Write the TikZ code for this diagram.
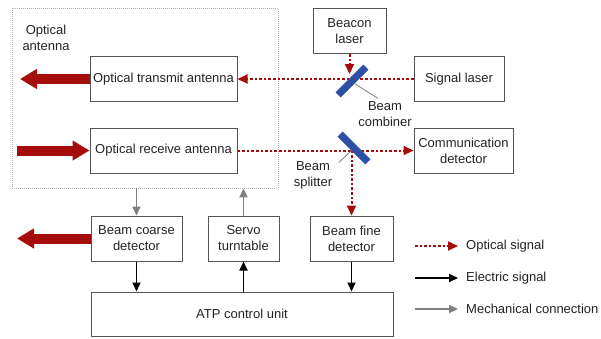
\documentclass[tikz,border=0pt]{standalone}
\usepackage{fontspec}
\setmainfont{Liberation Sans}
\usetikzlibrary{arrows.meta, positioning}

\definecolor{beamred}{RGB}{165,12,12}
\definecolor{mirrorblue}{RGB}{45,80,165}
\definecolor{boxgray}{RGB}{85,85,85}
\definecolor{textgray}{RGB}{35,35,35}

\begin{document}
\begin{tikzpicture}[x=1pt, y=-1pt, font=\fontsize{13}{16}\selectfont, text=textgray,
    block/.style={draw=boxgray, line width=1pt, align=center, inner sep=1pt, minimum height=45pt},
    optical/.style={draw=beamred, line width=2pt, dash pattern=on 2.6pt off 2pt, arrows={-Triangle[length=10pt, width=9pt]}},
    electric/.style={draw=black, line width=1.8pt, arrows={-Triangle[length=9pt, width=8pt]}},
    mechanical/.style={draw=gray, line width=1.8pt, arrows={-Triangle[length=9pt, width=8pt]}},
    beam/.style={draw=beamred, line width=10pt, arrows={-Triangle[length=17pt, width=19pt]}},
    mirror/.style={fill=mirrorblue, minimum width=39pt, minimum height=7pt, inner sep=0pt},
    pointer/.style={draw=gray, line width=0.8pt}]
    \useasboundingbox (0,0) rectangle (601,338);

    % Nodes
    \node[draw=gray!60, line width=0.8pt, dash pattern=on 1pt off 1pt, minimum width=266pt, minimum height=180pt] (antenna) at (145,98) {};
    \node[align=center] (antlabel) at (46,37.5) {Optical\\antenna};
    \node[block, minimum width=147pt] (transmit) at (163.5,79) {Optical transmit antenna};
    \node[block, minimum width=147pt] (receive) at (163.5,150.5) {Optical receive antenna};
    \node[block, minimum width=73pt] (beacon) at (349.5,31) {Beacon\\laser};
    \node[block, minimum width=90pt] (signal) at (459,79) {Signal laser};
    \node[block, minimum width=99pt] (comm) at (463.5,150.5) {Communication\\detector};
    \node[mirror, rotate=45] (combiner) at (352,81) {};
    \node[mirror, rotate=-45] (splitter) at (354,148) {};
    \node[align=center] (combtext) at (385,114.5) {Beam\\combiner};
    \node[align=center] (splittext) at (313,175) {Beam\\splitter};
    \node[block, minimum width=91pt] (coarse) at (136.5,238.5) {Beam coarse\\detector};
    \node[block, minimum width=71pt] (servo) at (243.5,238.5) {Servo\\turntable};
    \node[block, minimum width=83pt] (fine) at (351.5,238.5) {Beam fine\\detector};
    \node[block, minimum width=302pt, minimum height=44pt] (atp) at (242,314) {ATP control unit};
    \coordinate (bc) at (349.5,74);
    \coordinate (sp) at (351.5,150.5);
    \coordinate (txout) at (20,79);
    \coordinate (rxin) at (17,150.5);
    \coordinate (coarseout) at (17,238.5);

    % Legend
    \node[anchor=west, inner sep=1pt] (lopt) at (465,246) {Optical signal};
    \node[anchor=west, inner sep=1pt] (lele) at (465,278) {Electric signal};
    \node[anchor=west, inner sep=1pt] (lmech) at (465,309) {Mechanical connection};
    \coordinate (lo) at (415,246);
    \coordinate (le) at (415,278);
    \coordinate (lm) at (415,309);

    % Connections
    \draw[beam] (transmit) -- (txout);
    \draw[beam] (rxin) -- (receive);
    \draw[beam] (coarse) -- (coarseout);
    \draw[optical] (beacon) -- (bc);
    \draw[optical] (signal) -- (transmit);
    \draw[optical] (receive) -- (comm);
    \draw[optical] (sp) -- (fine);
    \node[mirror, rotate=45] at (combiner) {};
    \node[mirror, rotate=-45] at (splitter) {};
    \draw[pointer] (combiner.south) -- ([xshift=-7pt]combtext.north);
    \draw[pointer] (splitter.south) -- ([xshift=3pt, yshift=-5pt]splittext.north east);
    \draw[mechanical] (antenna.south -| coarse) -- (coarse);
    \draw[mechanical] (servo) -- (antenna.south -| servo);
    \draw[electric] (coarse) -- (coarse |- atp.north);
    \draw[electric] (atp.north -| servo) -- (servo);
    \draw[electric] (fine) -- (fine |- atp.north);
    \draw[optical, shorten >=7pt] (lo) -- (lopt.west);
    \draw[electric, shorten >=7pt] (le) -- (lele.west);
    \draw[mechanical, shorten >=7pt] (lm) -- (lmech.west);
\end{tikzpicture}
\end{document}
